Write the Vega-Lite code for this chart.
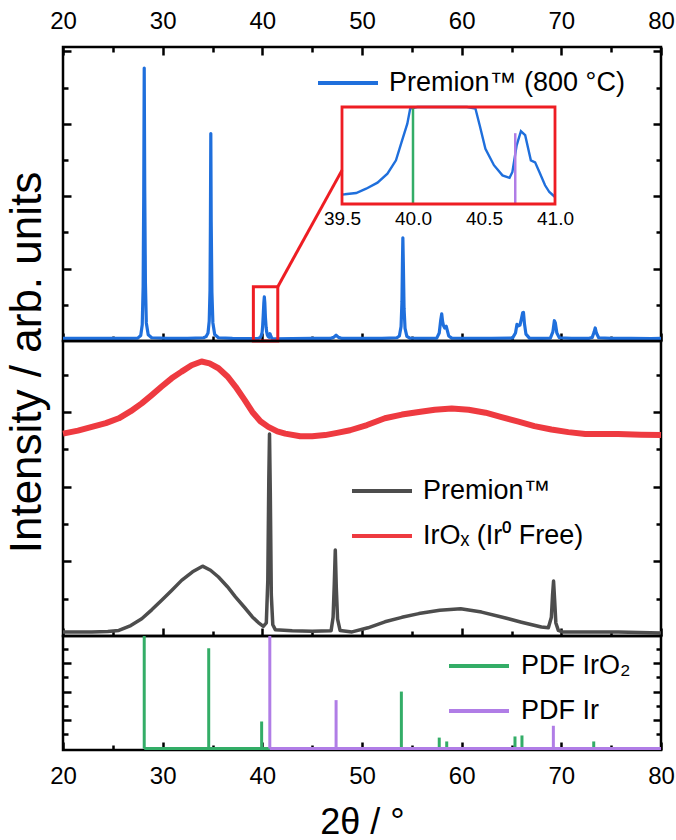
{
  "$schema": "https://vega.github.io/schema/vega-lite/v6.json",
  "background": "white",
  "padding": {"left": 4, "top": 4, "right": 4, "bottom": 0},
  "spacing": 0,
  "bounds": "flush",
  "config": {
    "font": "Liberation Sans",
    "view": {"stroke": "black", "strokeWidth": 2.5},
    "axis": {
      "grid": false,
      "domain": false,
      "tickColor": "black",
      "tickWidth": 2.5,
      "tickSize": -6,
      "labelFont": "Liberation Sans",
      "labelFontSize": 24,
      "labelColor": "black",
      "labelFlush": false,
      "labelOverlap": false,
      "titleFont": "Liberation Sans",
      "titleFontWeight": "normal",
      "titleColor": "black"
    },
    "legend": {
      "orient": "none",
      "title": null,
      "labelFont": "Liberation Sans",
      "labelFontSize": 27,
      "labelColor": "black",
      "labelLimit": 0,
      "symbolType": "stroke",
      "symbolSize": 3600,
      "symbolStrokeWidth": 4,
      "labelOffset": 9,
      "padding": 0
    }
  },
  "datasets": {
    "premion800": [
      {"sample": "Premion™ (800 °C)", "twotheta": 20, "intensity": 0.07}, {"sample": "Premion™ (800 °C)", "twotheta": 22, "intensity": 0.075}, {"sample": "Premion™ (800 °C)", "twotheta": 24, "intensity": 0.07},
      {"sample": "Premion™ (800 °C)", "twotheta": 26, "intensity": 0.075}, {"sample": "Premion™ (800 °C)", "twotheta": 27.5, "intensity": 0.08}, {"sample": "Premion™ (800 °C)", "twotheta": 27.8, "intensity": 0.15},
      {"sample": "Premion™ (800 °C)", "twotheta": 27.95, "intensity": 0.45}, {"sample": "Premion™ (800 °C)", "twotheta": 28.04, "intensity": 1.5}, {"sample": "Premion™ (800 °C)", "twotheta": 28.1, "intensity": 4.0},
      {"sample": "Premion™ (800 °C)", "twotheta": 28.15, "intensity": 7.54}, {"sample": "Premion™ (800 °C)", "twotheta": 28.2, "intensity": 4.2}, {"sample": "Premion™ (800 °C)", "twotheta": 28.27, "intensity": 1.6},
      {"sample": "Premion™ (800 °C)", "twotheta": 28.36, "intensity": 0.5}, {"sample": "Premion™ (800 °C)", "twotheta": 28.55, "intensity": 0.17}, {"sample": "Premion™ (800 °C)", "twotheta": 28.9, "intensity": 0.09},
      {"sample": "Premion™ (800 °C)", "twotheta": 30.5, "intensity": 0.07}, {"sample": "Premion™ (800 °C)", "twotheta": 32.5, "intensity": 0.075}, {"sample": "Premion™ (800 °C)", "twotheta": 34.1, "intensity": 0.09},
      {"sample": "Premion™ (800 °C)", "twotheta": 34.35, "intensity": 0.12}, {"sample": "Premion™ (800 °C)", "twotheta": 34.55, "intensity": 0.22}, {"sample": "Premion™ (800 °C)", "twotheta": 34.67, "intensity": 0.55},
      {"sample": "Premion™ (800 °C)", "twotheta": 34.75, "intensity": 1.4}, {"sample": "Premion™ (800 °C)", "twotheta": 34.79, "intensity": 3.2}, {"sample": "Premion™ (800 °C)", "twotheta": 34.83, "intensity": 5.73},
      {"sample": "Premion™ (800 °C)", "twotheta": 34.87, "intensity": 3.3}, {"sample": "Premion™ (800 °C)", "twotheta": 34.94, "intensity": 1.35}, {"sample": "Premion™ (800 °C)", "twotheta": 35.04, "intensity": 0.5},
      {"sample": "Premion™ (800 °C)", "twotheta": 35.22, "intensity": 0.18}, {"sample": "Premion™ (800 °C)", "twotheta": 35.6, "intensity": 0.09}, {"sample": "Premion™ (800 °C)", "twotheta": 37, "intensity": 0.07},
      {"sample": "Premion™ (800 °C)", "twotheta": 38.5, "intensity": 0.068}, {"sample": "Premion™ (800 °C)", "twotheta": 39.3, "intensity": 0.066}, {"sample": "Premion™ (800 °C)", "twotheta": 39.5, "intensity": 0.0695},
      {"sample": "Premion™ (800 °C)", "twotheta": 39.52, "intensity": 0.07}, {"sample": "Premion™ (800 °C)", "twotheta": 39.6, "intensity": 0.0727}, {"sample": "Premion™ (800 °C)", "twotheta": 39.67, "intensity": 0.0815},
      {"sample": "Premion™ (800 °C)", "twotheta": 39.75, "intensity": 0.094}, {"sample": "Premion™ (800 °C)", "twotheta": 39.82, "intensity": 0.1125}, {"sample": "Premion™ (800 °C)", "twotheta": 39.88, "intensity": 0.14},
      {"sample": "Premion™ (800 °C)", "twotheta": 39.92, "intensity": 0.178}, {"sample": "Premion™ (800 °C)", "twotheta": 39.96, "intensity": 0.2156}, {"sample": "Premion™ (800 °C)", "twotheta": 39.98, "intensity": 0.2465},
      {"sample": "Premion™ (800 °C)", "twotheta": 40.03, "intensity": 0.4}, {"sample": "Premion™ (800 °C)", "twotheta": 40.09, "intensity": 0.7}, {"sample": "Premion™ (800 °C)", "twotheta": 40.15, "intensity": 1.05},
      {"sample": "Premion™ (800 °C)", "twotheta": 40.2, "intensity": 1.22}, {"sample": "Premion™ (800 °C)", "twotheta": 40.25, "intensity": 1.05}, {"sample": "Premion™ (800 °C)", "twotheta": 40.31, "intensity": 0.65},
      {"sample": "Premion™ (800 °C)", "twotheta": 40.38, "intensity": 0.38}, {"sample": "Premion™ (800 °C)", "twotheta": 40.44, "intensity": 0.2465}, {"sample": "Premion™ (800 °C)", "twotheta": 40.47, "intensity": 0.212},
      {"sample": "Premion™ (800 °C)", "twotheta": 40.51, "intensity": 0.164}, {"sample": "Premion™ (800 °C)", "twotheta": 40.57, "intensity": 0.13}, {"sample": "Premion™ (800 °C)", "twotheta": 40.63, "intensity": 0.109},
      {"sample": "Premion™ (800 °C)", "twotheta": 40.68, "intensity": 0.104}, {"sample": "Premion™ (800 °C)", "twotheta": 40.7, "intensity": 0.116}, {"sample": "Premion™ (800 °C)", "twotheta": 40.73, "intensity": 0.171},
      {"sample": "Premion™ (800 °C)", "twotheta": 40.76, "intensity": 0.2}, {"sample": "Premion™ (800 °C)", "twotheta": 40.79, "intensity": 0.192}, {"sample": "Premion™ (800 °C)", "twotheta": 40.83, "intensity": 0.14},
      {"sample": "Premion™ (800 °C)", "twotheta": 40.86, "intensity": 0.136}, {"sample": "Premion™ (800 °C)", "twotheta": 40.89, "intensity": 0.116}, {"sample": "Premion™ (800 °C)", "twotheta": 40.93, "intensity": 0.0886},
      {"sample": "Premion™ (800 °C)", "twotheta": 40.96, "intensity": 0.0747}, {"sample": "Premion™ (800 °C)", "twotheta": 41.0, "intensity": 0.0644}, {"sample": "Premion™ (800 °C)", "twotheta": 41.2, "intensity": 0.062},
      {"sample": "Premion™ (800 °C)", "twotheta": 43, "intensity": 0.068}, {"sample": "Premion™ (800 °C)", "twotheta": 45, "intensity": 0.07}, {"sample": "Premion™ (800 °C)", "twotheta": 46.8, "intensity": 0.07},
      {"sample": "Premion™ (800 °C)", "twotheta": 47.15, "intensity": 0.1}, {"sample": "Premion™ (800 °C)", "twotheta": 47.4, "intensity": 0.16}, {"sample": "Premion™ (800 °C)", "twotheta": 47.65, "intensity": 0.1},
      {"sample": "Premion™ (800 °C)", "twotheta": 48, "intensity": 0.07}, {"sample": "Premion™ (800 °C)", "twotheta": 50, "intensity": 0.07}, {"sample": "Premion™ (800 °C)", "twotheta": 52, "intensity": 0.072},
      {"sample": "Premion™ (800 °C)", "twotheta": 53.5, "intensity": 0.09}, {"sample": "Premion™ (800 °C)", "twotheta": 53.75, "intensity": 0.14}, {"sample": "Premion™ (800 °C)", "twotheta": 53.92, "intensity": 0.4},
      {"sample": "Premion™ (800 °C)", "twotheta": 54.01, "intensity": 1.1}, {"sample": "Premion™ (800 °C)", "twotheta": 54.06, "intensity": 2.2}, {"sample": "Premion™ (800 °C)", "twotheta": 54.1, "intensity": 2.85},
      {"sample": "Premion™ (800 °C)", "twotheta": 54.15, "intensity": 2.1}, {"sample": "Premion™ (800 °C)", "twotheta": 54.22, "intensity": 0.9}, {"sample": "Premion™ (800 °C)", "twotheta": 54.32, "intensity": 0.35},
      {"sample": "Premion™ (800 °C)", "twotheta": 54.5, "intensity": 0.13}, {"sample": "Premion™ (800 °C)", "twotheta": 54.8, "intensity": 0.08}, {"sample": "Premion™ (800 °C)", "twotheta": 56, "intensity": 0.07},
      {"sample": "Premion™ (800 °C)", "twotheta": 57.5, "intensity": 0.08}, {"sample": "Premion™ (800 °C)", "twotheta": 57.75, "intensity": 0.22}, {"sample": "Premion™ (800 °C)", "twotheta": 57.9, "intensity": 0.58},
      {"sample": "Premion™ (800 °C)", "twotheta": 58.0, "intensity": 0.75}, {"sample": "Premion™ (800 °C)", "twotheta": 58.08, "intensity": 0.55}, {"sample": "Premion™ (800 °C)", "twotheta": 58.18, "intensity": 0.42},
      {"sample": "Premion™ (800 °C)", "twotheta": 58.3, "intensity": 0.36}, {"sample": "Premion™ (800 °C)", "twotheta": 58.45, "intensity": 0.41}, {"sample": "Premion™ (800 °C)", "twotheta": 58.55, "intensity": 0.3},
      {"sample": "Premion™ (800 °C)", "twotheta": 58.7, "intensity": 0.14}, {"sample": "Premion™ (800 °C)", "twotheta": 59, "intensity": 0.08}, {"sample": "Premion™ (800 °C)", "twotheta": 61, "intensity": 0.07},
      {"sample": "Premion™ (800 °C)", "twotheta": 63, "intensity": 0.07}, {"sample": "Premion™ (800 °C)", "twotheta": 65.1, "intensity": 0.08}, {"sample": "Premion™ (800 °C)", "twotheta": 65.4, "intensity": 0.22},
      {"sample": "Premion™ (800 °C)", "twotheta": 65.55, "intensity": 0.46}, {"sample": "Premion™ (800 °C)", "twotheta": 65.7, "intensity": 0.42}, {"sample": "Premion™ (800 °C)", "twotheta": 65.85, "intensity": 0.44},
      {"sample": "Premion™ (800 °C)", "twotheta": 66.0, "intensity": 0.62}, {"sample": "Premion™ (800 °C)", "twotheta": 66.12, "intensity": 0.78}, {"sample": "Premion™ (800 °C)", "twotheta": 66.2, "intensity": 0.79},
      {"sample": "Premion™ (800 °C)", "twotheta": 66.3, "intensity": 0.48}, {"sample": "Premion™ (800 °C)", "twotheta": 66.45, "intensity": 0.19}, {"sample": "Premion™ (800 °C)", "twotheta": 66.8, "intensity": 0.08},
      {"sample": "Premion™ (800 °C)", "twotheta": 68, "intensity": 0.07}, {"sample": "Premion™ (800 °C)", "twotheta": 68.9, "intensity": 0.08}, {"sample": "Premion™ (800 °C)", "twotheta": 69.15, "intensity": 0.25},
      {"sample": "Premion™ (800 °C)", "twotheta": 69.3, "intensity": 0.56}, {"sample": "Premion™ (800 °C)", "twotheta": 69.4, "intensity": 0.5}, {"sample": "Premion™ (800 °C)", "twotheta": 69.55, "intensity": 0.22},
      {"sample": "Premion™ (800 °C)", "twotheta": 69.8, "intensity": 0.09}, {"sample": "Premion™ (800 °C)", "twotheta": 71, "intensity": 0.07}, {"sample": "Premion™ (800 °C)", "twotheta": 72.8, "intensity": 0.075},
      {"sample": "Premion™ (800 °C)", "twotheta": 73.1, "intensity": 0.1}, {"sample": "Premion™ (800 °C)", "twotheta": 73.28, "intensity": 0.24}, {"sample": "Premion™ (800 °C)", "twotheta": 73.4, "intensity": 0.36},
      {"sample": "Premion™ (800 °C)", "twotheta": 73.52, "intensity": 0.22}, {"sample": "Premion™ (800 °C)", "twotheta": 73.75, "intensity": 0.09}, {"sample": "Premion™ (800 °C)", "twotheta": 75, "intensity": 0.07},
      {"sample": "Premion™ (800 °C)", "twotheta": 77, "intensity": 0.07}, {"sample": "Premion™ (800 °C)", "twotheta": 79, "intensity": 0.068}, {"sample": "Premion™ (800 °C)", "twotheta": 80, "intensity": 0.07}
    ],
    "amorphous": [
      {"sample": "IrOₓ (Ir⁰ Free)", "twotheta": 20, "intensity": 5.42},
      {"sample": "IrOₓ (Ir⁰ Free)", "twotheta": 21.5, "intensity": 5.5},
      {"sample": "IrOₓ (Ir⁰ Free)", "twotheta": 22.9, "intensity": 5.6},
      {"sample": "IrOₓ (Ir⁰ Free)", "twotheta": 24.3, "intensity": 5.7},
      {"sample": "IrOₓ (Ir⁰ Free)", "twotheta": 25.6, "intensity": 5.83},
      {"sample": "IrOₓ (Ir⁰ Free)", "twotheta": 26.8, "intensity": 6.02},
      {"sample": "IrOₓ (Ir⁰ Free)", "twotheta": 27.9, "intensity": 6.23},
      {"sample": "IrOₓ (Ir⁰ Free)", "twotheta": 28.9, "intensity": 6.45},
      {"sample": "IrOₓ (Ir⁰ Free)", "twotheta": 29.9, "intensity": 6.68},
      {"sample": "IrOₓ (Ir⁰ Free)", "twotheta": 30.9, "intensity": 6.9},
      {"sample": "IrOₓ (Ir⁰ Free)", "twotheta": 31.9, "intensity": 7.08},
      {"sample": "IrOₓ (Ir⁰ Free)", "twotheta": 32.9, "intensity": 7.25},
      {"sample": "IrOₓ (Ir⁰ Free)", "twotheta": 33.9, "intensity": 7.35},
      {"sample": "IrOₓ (Ir⁰ Free)", "twotheta": 34.7, "intensity": 7.3},
      {"sample": "IrOₓ (Ir⁰ Free)", "twotheta": 35.6, "intensity": 7.17},
      {"sample": "IrOₓ (Ir⁰ Free)", "twotheta": 36.5, "intensity": 6.95},
      {"sample": "IrOₓ (Ir⁰ Free)", "twotheta": 37.3, "intensity": 6.68},
      {"sample": "IrOₓ (Ir⁰ Free)", "twotheta": 38.2, "intensity": 6.33},
      {"sample": "IrOₓ (Ir⁰ Free)", "twotheta": 39.0, "intensity": 6.0},
      {"sample": "IrOₓ (Ir⁰ Free)", "twotheta": 39.8, "intensity": 5.75},
      {"sample": "IrOₓ (Ir⁰ Free)", "twotheta": 40.6, "intensity": 5.6},
      {"sample": "IrOₓ (Ir⁰ Free)", "twotheta": 41.5, "intensity": 5.48},
      {"sample": "IrOₓ (Ir⁰ Free)", "twotheta": 42.3, "intensity": 5.42},
      {"sample": "IrOₓ (Ir⁰ Free)", "twotheta": 43.8, "intensity": 5.35},
      {"sample": "IrOₓ (Ir⁰ Free)", "twotheta": 45, "intensity": 5.35},
      {"sample": "IrOₓ (Ir⁰ Free)", "twotheta": 46.3, "intensity": 5.38},
      {"sample": "IrOₓ (Ir⁰ Free)", "twotheta": 47.5, "intensity": 5.44},
      {"sample": "IrOₓ (Ir⁰ Free)", "twotheta": 48.8, "intensity": 5.51},
      {"sample": "IrOₓ (Ir⁰ Free)", "twotheta": 50.5, "intensity": 5.65},
      {"sample": "IrOₓ (Ir⁰ Free)", "twotheta": 52.3, "intensity": 5.83},
      {"sample": "IrOₓ (Ir⁰ Free)", "twotheta": 54, "intensity": 5.93},
      {"sample": "IrOₓ (Ir⁰ Free)", "twotheta": 55.7, "intensity": 6.0},
      {"sample": "IrOₓ (Ir⁰ Free)", "twotheta": 57.3, "intensity": 6.06},
      {"sample": "IrOₓ (Ir⁰ Free)", "twotheta": 59.0, "intensity": 6.09},
      {"sample": "IrOₓ (Ir⁰ Free)", "twotheta": 60.7, "intensity": 6.06},
      {"sample": "IrOₓ (Ir⁰ Free)", "twotheta": 62.4, "intensity": 5.98},
      {"sample": "IrOₓ (Ir⁰ Free)", "twotheta": 64, "intensity": 5.86},
      {"sample": "IrOₓ (Ir⁰ Free)", "twotheta": 65.7, "intensity": 5.74},
      {"sample": "IrOₓ (Ir⁰ Free)", "twotheta": 67.3, "intensity": 5.62},
      {"sample": "IrOₓ (Ir⁰ Free)", "twotheta": 69.0, "intensity": 5.53},
      {"sample": "IrOₓ (Ir⁰ Free)", "twotheta": 70.7, "intensity": 5.46},
      {"sample": "IrOₓ (Ir⁰ Free)", "twotheta": 72.4, "intensity": 5.41},
      {"sample": "IrOₓ (Ir⁰ Free)", "twotheta": 75.7, "intensity": 5.41},
      {"sample": "IrOₓ (Ir⁰ Free)", "twotheta": 78, "intensity": 5.39},
      {"sample": "IrOₓ (Ir⁰ Free)", "twotheta": 80, "intensity": 5.38},
      {"sample": "Premion™", "twotheta": 20, "intensity": 0.11},
      {"sample": "Premion™", "twotheta": 22.9, "intensity": 0.11},
      {"sample": "Premion™", "twotheta": 24.5, "intensity": 0.12},
      {"sample": "Premion™", "twotheta": 25.6, "intensity": 0.15},
      {"sample": "Premion™", "twotheta": 26.8, "intensity": 0.28},
      {"sample": "Premion™", "twotheta": 27.9, "intensity": 0.46},
      {"sample": "Premion™", "twotheta": 28.9, "intensity": 0.7},
      {"sample": "Premion™", "twotheta": 29.9, "intensity": 0.96},
      {"sample": "Premion™", "twotheta": 30.9, "intensity": 1.22},
      {"sample": "Premion™", "twotheta": 31.9, "intensity": 1.49},
      {"sample": "Premion™", "twotheta": 33, "intensity": 1.72},
      {"sample": "Premion™", "twotheta": 34.0, "intensity": 1.87},
      {"sample": "Premion™", "twotheta": 34.8, "intensity": 1.76},
      {"sample": "Premion™", "twotheta": 35.6, "intensity": 1.58},
      {"sample": "Premion™", "twotheta": 36.5, "intensity": 1.32},
      {"sample": "Premion™", "twotheta": 37.3, "intensity": 1.05},
      {"sample": "Premion™", "twotheta": 38.2, "intensity": 0.77},
      {"sample": "Premion™", "twotheta": 39.0, "intensity": 0.51},
      {"sample": "Premion™", "twotheta": 39.6, "intensity": 0.36},
      {"sample": "Premion™", "twotheta": 40.1, "intensity": 0.26},
      {"sample": "Premion™", "twotheta": 40.4, "intensity": 0.35},
      {"sample": "Premion™", "twotheta": 40.55, "intensity": 1.5},
      {"sample": "Premion™", "twotheta": 40.65, "intensity": 4.2},
      {"sample": "Premion™", "twotheta": 40.72, "intensity": 5.41},
      {"sample": "Premion™", "twotheta": 40.8, "intensity": 3.8},
      {"sample": "Premion™", "twotheta": 40.9, "intensity": 1.1},
      {"sample": "Premion™", "twotheta": 41.05, "intensity": 0.3},
      {"sample": "Premion™", "twotheta": 41.3, "intensity": 0.17},
      {"sample": "Premion™", "twotheta": 43, "intensity": 0.14},
      {"sample": "Premion™", "twotheta": 45, "intensity": 0.13},
      {"sample": "Premion™", "twotheta": 46.9, "intensity": 0.14},
      {"sample": "Premion™", "twotheta": 47.1, "intensity": 0.5},
      {"sample": "Premion™", "twotheta": 47.22, "intensity": 1.4},
      {"sample": "Premion™", "twotheta": 47.32, "intensity": 2.3},
      {"sample": "Premion™", "twotheta": 47.42, "intensity": 1.3},
      {"sample": "Premion™", "twotheta": 47.55, "intensity": 0.45},
      {"sample": "Premion™", "twotheta": 47.8, "intensity": 0.15},
      {"sample": "Premion™", "twotheta": 49.0, "intensity": 0.11},
      {"sample": "Premion™", "twotheta": 50.6, "intensity": 0.22},
      {"sample": "Premion™", "twotheta": 52.3, "intensity": 0.38},
      {"sample": "Premion™", "twotheta": 54, "intensity": 0.5},
      {"sample": "Premion™", "twotheta": 55.7, "intensity": 0.6},
      {"sample": "Premion™", "twotheta": 57.8, "intensity": 0.69},
      {"sample": "Premion™", "twotheta": 59.9, "intensity": 0.73},
      {"sample": "Premion™", "twotheta": 62, "intensity": 0.64},
      {"sample": "Premion™", "twotheta": 64.0, "intensity": 0.51},
      {"sample": "Premion™", "twotheta": 66, "intensity": 0.37},
      {"sample": "Premion™", "twotheta": 68.0, "intensity": 0.24},
      {"sample": "Premion™", "twotheta": 68.7, "intensity": 0.22},
      {"sample": "Premion™", "twotheta": 69.0, "intensity": 0.5},
      {"sample": "Premion™", "twotheta": 69.12, "intensity": 1.1},
      {"sample": "Premion™", "twotheta": 69.22, "intensity": 1.47},
      {"sample": "Premion™", "twotheta": 69.32, "intensity": 1.0},
      {"sample": "Premion™", "twotheta": 69.45, "intensity": 0.35},
      {"sample": "Premion™", "twotheta": 69.7, "intensity": 0.15},
      {"sample": "Premion™", "twotheta": 70.1, "intensity": 0.11},
      {"sample": "Premion™", "twotheta": 75.7, "intensity": 0.11},
      {"sample": "Premion™", "twotheta": 80, "intensity": 0.08}
    ],
    "pdfSticks": [
      {"phase": "PDF IrO₂", "twotheta": 28.15, "rel": 7.9, "level": 0},
      {"phase": "PDF IrO₂", "twotheta": 34.62, "rel": 7.04, "level": 0},
      {"phase": "PDF IrO₂", "twotheta": 39.93, "rel": 1.9, "level": 0},
      {"phase": "PDF IrO₂", "twotheta": 53.95, "rel": 4.0, "level": 0},
      {"phase": "PDF IrO₂", "twotheta": 57.75, "rel": 0.77, "level": 0},
      {"phase": "PDF IrO₂", "twotheta": 58.5, "rel": 0.5, "level": 0},
      {"phase": "PDF IrO₂", "twotheta": 65.35, "rel": 0.85, "level": 0},
      {"phase": "PDF IrO₂", "twotheta": 66.05, "rel": 0.92, "level": 0},
      {"phase": "PDF IrO₂", "twotheta": 73.25, "rel": 0.5, "level": 0},
      {"phase": "PDF Ir", "twotheta": 40.75, "rel": 7.9, "level": 0},
      {"phase": "PDF Ir", "twotheta": 47.4, "rel": 3.4, "level": 0},
      {"phase": "PDF Ir", "twotheta": 69.2, "rel": 1.6, "level": 0}
    ],
    "pdfBaselines": [
      {"phase": "PDF IrO₂", "start": 28.15, "end": 80, "level": 0},
      {"phase": "PDF Ir", "start": 40.75, "end": 80, "level": 0}
    ],
    "insetRefs": [
      {"phase": "PDF IrO₂", "twotheta": 40.0, "bottom": 0.05, "top": 0.25},
      {"phase": "PDF Ir", "twotheta": 40.72, "bottom": 0.05, "top": 0.196}
    ]
  },
  "vconcat": [
    {
      "width": 598,
      "height": 294,
      "layer": [
        {
          "data": {"name": "premion800"},
          "mark": {"type": "line", "strokeWidth": 3.2, "strokeJoin": "round"},
          "encoding": {
            "x": {
              "field": "twotheta", "type": "quantitative",
              "scale": {"domain": [20, 80], "nice": false, "zero": false},
              "axis": {
                "orient": "top", "title": null,
                "values": [20, 25, 30, 35, 40, 45, 50, 55, 60, 65, 70, 75, 80],
                "labelExpr": "datum.value % 10 === 0 ? datum.label : ''",
                "labelPadding": 22,
                "tickSize": {"condition": {"test": "datum.value % 10 === 0", "value": -8}, "value": -5}
              }
            },
            "y": {
              "field": "intensity", "type": "quantitative",
              "scale": {"domain": [0, 8.12], "nice": false},
              "axis": {
                "orient": "left", "title": null, "labels": false, "values": [1, 2, 3, 4, 5, 6, 7, 8],
                "tickSize": {"condition": {"test": "datum.value % 2 === 0", "value": -8}, "value": -5}
              }
            },
            "color": {
              "field": "sample", "type": "nominal",
              "scale": {"domain": ["Premion™ (800 °C)"], "range": ["#1f6fdc"]},
              "legend": {"legendX": 253, "legendY": 4}
            }
          }
        },
        {
          "data": {"values": [{"from": 39.1, "to": 41.55, "low": 0, "high": 1.5}]},
          "mark": {"type": "rect", "fillOpacity": 0, "stroke": "#ee1d23", "strokeWidth": 3},
          "encoding": {
            "x": {
              "field": "from", "type": "quantitative",
              "scale": {"domain": [20, 80], "nice": false, "zero": false},
              "axis": {
                "orient": "bottom", "title": null, "labels": false, "values": [20, 25, 30, 35, 40, 45, 50, 55, 60, 65, 70, 75, 80],
                "tickSize": {"condition": {"test": "datum.value % 10 === 0", "value": -8}, "value": -5}
              }
            },
            "x2": {"field": "to"},
            "y": {
              "field": "low", "type": "quantitative",
              "scale": {"domain": [0, 8.12], "nice": false},
              "axis": {
                "orient": "right", "title": null, "labels": false, "values": [1, 2, 3, 4, 5, 6, 7, 8],
                "tickSize": {"condition": {"test": "datum.value % 2 === 0", "value": -8}, "value": -5}
              }
            },
            "y2": {"field": "high"}
          }
        },
        {
          "data": {"values": [{"x0": 41.55, "y0": 1.5, "x1": 48.0, "y1": 4.72}]},
          "mark": {"type": "rule", "stroke": "#ee1d23", "strokeWidth": 3},
          "encoding": {
            "x": {"field": "x0", "type": "quantitative", "scale": {"domain": [20, 80], "nice": false, "zero": false}, "axis": null},
            "y": {"field": "y0", "type": "quantitative", "scale": {"domain": [0, 8.12], "nice": false}, "axis": null},
            "x2": {"field": "x1"},
            "y2": {"field": "y1"}
          }
        },
        {
          "data": {"name": "premion800"},
          "transform": [{"filter": "datum.twotheta >= 39.5 && datum.twotheta <= 41.0"}],
          "mark": {"type": "line", "color": "#1f6fdc", "strokeWidth": 2.4},
          "encoding": {
            "x": {
              "field": "twotheta", "type": "quantitative",
              "scale": {"domain": [39.5, 41.0], "range": [279, 492], "nice": false, "zero": false},
              "axis": null
            },
            "y": {
              "field": "intensity", "type": "quantitative",
              "scale": {"domain": [0.05, 0.25], "range": [157, 60], "nice": false, "zero": false, "clamp": true},
              "axis": null
            }
          }
        },
        {
          "data": {"name": "insetRefs"},
          "transform": [{"filter": "datum.phase === 'PDF IrO₂'"}],
          "mark": {"type": "rule", "color": "#33ad67", "strokeWidth": 2.5},
          "encoding": {
            "x": {"field": "twotheta", "type": "quantitative", "scale": {"domain": [39.5, 41.0], "range": [279, 492], "nice": false, "zero": false}, "axis": null},
            "y": {"field": "bottom", "type": "quantitative", "scale": {"domain": [0.05, 0.25], "range": [157, 60], "nice": false, "zero": false}, "axis": null},
            "y2": {"field": "top"}
          }
        },
        {
          "data": {"name": "insetRefs"},
          "transform": [{"filter": "datum.phase === 'PDF Ir'"}],
          "mark": {"type": "rule", "color": "#b07de6", "strokeWidth": 2.5},
          "encoding": {
            "x": {"field": "twotheta", "type": "quantitative", "scale": {"domain": [39.5, 41.0], "range": [279, 492], "nice": false, "zero": false}, "axis": null},
            "y": {"field": "bottom", "type": "quantitative", "scale": {"domain": [0.05, 0.25], "range": [157, 60], "nice": false, "zero": false}, "axis": null},
            "y2": {"field": "top"}
          }
        },
        {
          "data": {"values": [{"lo": 39.5, "hi": 41.0, "bottom": 0.05, "top": 0.25}]},
          "mark": {"type": "rect", "fillOpacity": 0, "stroke": "#ee1d23", "strokeWidth": 2.8},
          "encoding": {
            "x": {
              "field": "lo", "type": "quantitative",
              "scale": {"domain": [39.5, 41.0], "range": [279, 492], "nice": false, "zero": false},
              "axis": {
                "orient": "bottom", "title": null, "offset": -137,
                "values": [39.5, 40.0, 40.5, 41.0], "format": ".1f",
                "ticks": false, "labelPadding": 5, "labelFontSize": 19
              }
            },
            "x2": {"field": "hi"},
            "y": {"field": "bottom", "type": "quantitative", "scale": {"domain": [0.05, 0.25], "range": [157, 60], "nice": false, "zero": false}, "axis": null},
            "y2": {"field": "top"}
          }
        }
      ],
      "resolve": {"scale": {"x": "independent", "y": "independent"}}
    },
    {
      "width": 598,
      "height": 295,
      "data": {"name": "amorphous"},
      "layer": [
        {
          "transform": [{"filter": "datum.sample !== 'Premion™'"}],
          "mark": {"type": "line", "strokeWidth": 6, "strokeJoin": "round"},
          "encoding": {
            "x": {
              "field": "twotheta", "type": "quantitative",
              "scale": {"domain": [20, 80], "nice": false, "zero": false},
              "axis": {
                "orient": "bottom", "title": null, "labels": false, "values": [20, 25, 30, 35, 40, 45, 50, 55, 60, 65, 70, 75, 80],
                "tickSize": {"condition": {"test": "datum.value % 10 === 0", "value": -8}, "value": -5}
              }
            },
            "y": {
              "field": "intensity", "type": "quantitative",
              "scale": {"domain": [0, 7.9], "nice": false},
              "axis": {
                "orient": "left", "labels": false,
                "title": "Intensity / arb. units",
                "titleFontSize": 44, "titlePadding": 12, "titleY": 21,
                "values": [1, 2, 3, 4, 5, 6, 7],
                "tickSize": {"condition": {"test": "datum.value % 2 === 0", "value": -8}, "value": -5}
              }
            },
            "color": {
              "field": "sample", "type": "nominal",
              "scale": {"domain": ["Premion™", "IrOₓ (Ir⁰ Free)"], "range": ["#4d4d4d", "#ee3a40"]},
              "legend": {"legendX": 287, "legendY": 118, "rowPadding": -22}
            }
          }
        },
        {
          "transform": [{"filter": "datum.sample === 'Premion™'"}],
          "mark": {"type": "line", "strokeWidth": 3.5, "strokeJoin": "round"},
          "encoding": {
            "x": {"field": "twotheta", "type": "quantitative", "scale": {"domain": [20, 80], "nice": false, "zero": false}, "axis": null},
            "y": {
              "field": "intensity", "type": "quantitative",
              "scale": {"domain": [0, 7.9], "nice": false},
              "axis": {
                "orient": "right", "title": null, "labels": false, "values": [1, 2, 3, 4, 5, 6, 7],
                "tickSize": {"condition": {"test": "datum.value % 2 === 0", "value": -8}, "value": -5}
              }
            },
            "color": {"field": "sample", "type": "nominal"}
          }
        }
      ],
      "resolve": {"scale": {"x": "independent", "y": "independent"}}
    },
    {
      "width": 598,
      "height": 114,
      "layer": [
        {
          "data": {"name": "pdfBaselines"},
          "transform": [{"filter": "datum.phase === 'PDF IrO₂'"}],
          "mark": {"type": "rule", "strokeWidth": 3},
          "encoding": {
            "x": {
              "field": "start", "type": "quantitative",
              "scale": {"domain": [20, 80], "nice": false, "zero": false},
              "axis": {
                "orient": "bottom",
                "title": "2θ / °", "titleFontSize": 36, "titlePadding": 14,
                "values": [20, 25, 30, 35, 40, 45, 50, 55, 60, 65, 70, 75, 80],
                "labelExpr": "datum.value % 10 === 0 ? datum.label : ''",
                "labelPadding": 22,
                "tickSize": {"condition": {"test": "datum.value % 10 === 0", "value": -8}, "value": -5}
              }
            },
            "x2": {"field": "end"},
            "y": {
              "field": "level", "type": "quantitative",
              "scale": {"domain": [-0.1, 7.9], "nice": false, "zero": false},
              "axis": {
                "orient": "left", "title": null, "labels": false, "values": [1, 2, 3, 4, 5, 6, 7],
                "tickSize": {"condition": {"test": "datum.value % 2 === 0", "value": -8}, "value": -5}
              }
            },
            "color": {
              "field": "phase", "type": "nominal",
              "scale": {"domain": ["PDF IrO₂", "PDF Ir"], "range": ["#33ad67", "#b07de6"]},
              "legend": {"legendX": 384, "legendY": -2, "rowPadding": -16, "labelOffset": 10}
            }
          }
        },
        {
          "data": {"name": "pdfSticks"},
          "transform": [{"filter": "datum.phase === 'PDF IrO₂'"}],
          "mark": {"type": "rule", "strokeWidth": 3},
          "encoding": {
            "x": {"field": "twotheta", "type": "quantitative", "scale": {"domain": [20, 80], "nice": false, "zero": false}, "axis": null},
            "y": {
              "field": "rel", "type": "quantitative",
              "scale": {"domain": [-0.1, 7.9], "nice": false, "zero": false},
              "axis": {
                "orient": "right", "title": null, "labels": false, "values": [1, 2, 3, 4, 5, 6, 7],
                "tickSize": {"condition": {"test": "datum.value % 2 === 0", "value": -8}, "value": -5}
              }
            },
            "y2": {"field": "level"},
            "color": {"field": "phase", "type": "nominal"}
          }
        },
        {
          "data": {"name": "pdfBaselines"},
          "transform": [{"filter": "datum.phase === 'PDF Ir'"}],
          "mark": {"type": "rule", "strokeWidth": 3},
          "encoding": {
            "x": {"field": "start", "type": "quantitative", "scale": {"domain": [20, 80], "nice": false, "zero": false}, "axis": null},
            "x2": {"field": "end"},
            "y": {"field": "level", "type": "quantitative", "scale": {"domain": [-0.1, 7.9], "nice": false, "zero": false}, "axis": null},
            "color": {"field": "phase", "type": "nominal"}
          }
        },
        {
          "data": {"name": "pdfSticks"},
          "transform": [{"filter": "datum.phase === 'PDF Ir'"}],
          "mark": {"type": "rule", "strokeWidth": 3},
          "encoding": {
            "x": {"field": "twotheta", "type": "quantitative", "scale": {"domain": [20, 80], "nice": false, "zero": false}, "axis": null},
            "y": {"field": "rel", "type": "quantitative", "scale": {"domain": [-0.1, 7.9], "nice": false, "zero": false}, "axis": null},
            "y2": {"field": "level"},
            "color": {"field": "phase", "type": "nominal"}
          }
        }
      ],
      "resolve": {"scale": {"x": "independent", "y": "independent"}}
    }
  ],
  "resolve": {
    "scale": {"color": "independent", "x": "independent", "y": "independent"},
    "legend": {"color": "independent"}
  }
}
